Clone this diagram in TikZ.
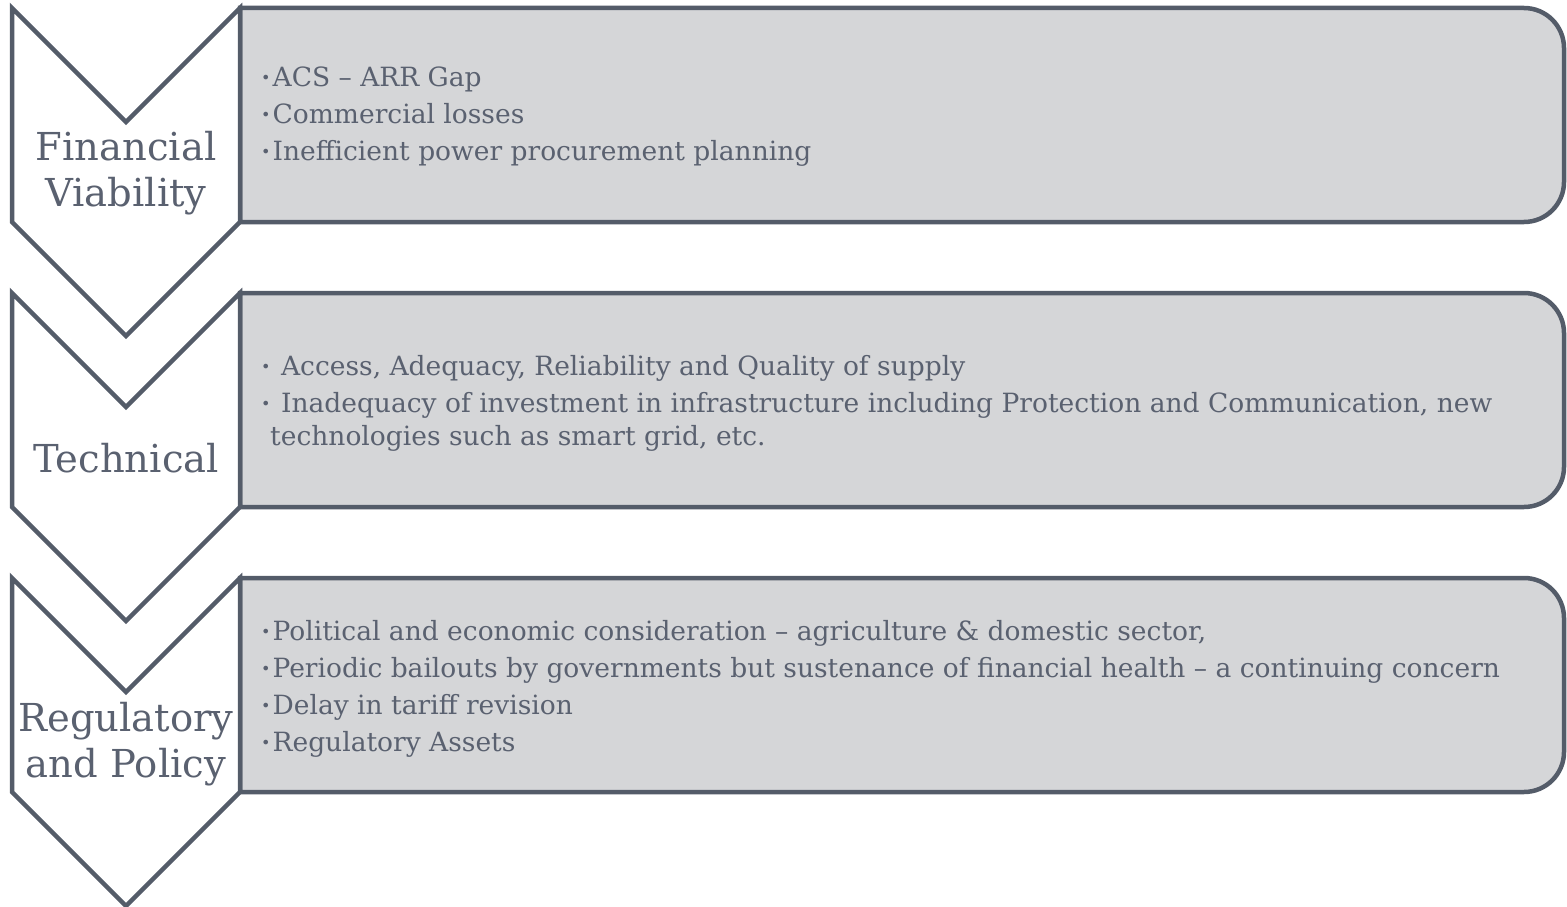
\documentclass[tikz,border=0pt]{standalone}
\usepackage{fontspec}
\setmainfont{DejaVu Serif}
\definecolor{edge}{HTML}{545C69}
\definecolor{boxfill}{HTML}{D5D6D8}
\definecolor{ink}{HTML}{5A6170}
\newcommand{\bul}{{\fontsize{16}{16}\selectfont\raisebox{3pt}{•}}\hspace{2pt}}
\begin{document}
\begin{tikzpicture}[x=1pt,y=-1pt,
  panel/.style={draw=edge, fill=boxfill, line width=4.5pt, line join=miter},
  chev/.style={draw=edge, fill=white, line width=4.5pt, line join=miter},
  headtext/.style={text=ink, align=center, font=\fontsize{38.5}{46}\selectfont, inner sep=0pt},
  itemtext/.style={text=ink, align=left, anchor=west, font=\fontsize{26.5}{37}\selectfont, inner sep=0pt}]
\useasboundingbox (0,0) rectangle (1567,907);
% panels
\foreach \t in {8,293,578}{
  \draw[panel] (240,\t) [rounded corners=40] -- (1564,\t) -- (1564,\t+214) [sharp corners] -- (240,\t+214) -- cycle;
}
% chevrons
\foreach \t in {8,293,578}{
  \draw[chev] (12,\t) -- (126,\t+114) -- (240,\t) -- (240,\t+214) -- (126,\t+328) -- (12,\t+214) -- cycle;
}
\node[headtext] (h1) at (126,173) {Financial\\Viability};
\node[headtext] (h2) at (126,458) {Technical};
\node[headtext] (h3) at (126,744) {Regulatory\\and Policy};
\node[itemtext] (t1) at (261,117) {\bul ACS – ARR Gap\\ \bul Commercial losses\\ \bul Inefficient power procurement planning};
\node[itemtext] (t2) at (261,403) {\bul\ Access, Adequacy, Reliability and Quality of supply\\ \bul\ Inadequacy of investment in infrastructure including Protection and Communication, new\\[-4pt] \hspace*{9pt}technologies such as smart grid, etc.};
\node[itemtext] (t3) at (261,689) {\bul Political and economic consideration – agriculture \& domestic sector,\\ \bul Periodic bailouts by governments but sustenance of financial health – a continuing concern\\ \bul Delay in tariff revision\\ \bul Regulatory Assets};
\end{tikzpicture}
\end{document}
